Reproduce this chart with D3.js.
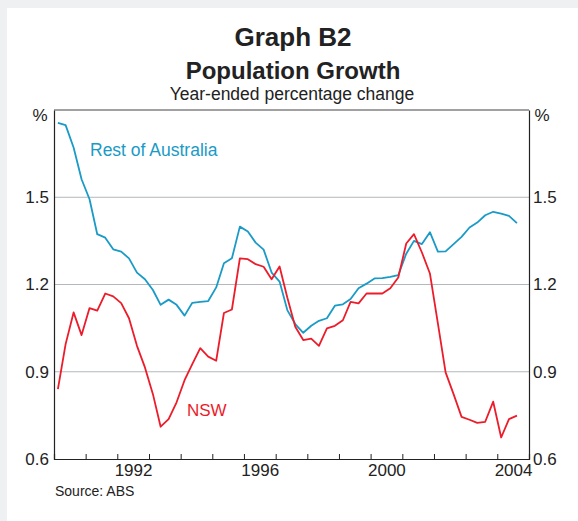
<!DOCTYPE html>
<html>
<head>
<meta charset="utf-8">
<script src="https://cdn.jsdelivr.net/npm/d3@7"></script>
<style>
  body { margin: 0; background: #eef0f2; }
  text { font-family: "Liberation Sans", Arial, sans-serif; fill: #222; }
</style>
</head>
<body>
<div id="my_dataviz"></div>
<script>
// quarterly observations, March 1990 to September 2004
var quarters = [
  "1990Q1","1990Q2","1990Q3","1990Q4","1991Q1","1991Q2","1991Q3","1991Q4",
  "1992Q1","1992Q2","1992Q3","1992Q4","1993Q1","1993Q2","1993Q3","1993Q4",
  "1994Q1","1994Q2","1994Q3","1994Q4","1995Q1","1995Q2","1995Q3","1995Q4",
  "1996Q1","1996Q2","1996Q3","1996Q4","1997Q1","1997Q2","1997Q3","1997Q4",
  "1998Q1","1998Q2","1998Q3","1998Q4","1999Q1","1999Q2","1999Q3","1999Q4",
  "2000Q1","2000Q2","2000Q3","2000Q4","2001Q1","2001Q2","2001Q3","2001Q4",
  "2002Q1","2002Q2","2002Q3","2002Q4","2003Q1","2003Q2","2003Q3","2003Q4",
  "2004Q1","2004Q2","2004Q3"
];

var restOfAustralia = [
  1.756, 1.748, 1.671, 1.562, 1.493, 1.373, 1.361, 1.321,
  1.313, 1.290, 1.241, 1.218, 1.181, 1.130, 1.148, 1.130,
  1.093, 1.137, 1.140, 1.143, 1.190, 1.273, 1.290, 1.399,
  1.382, 1.344, 1.320, 1.241, 1.210, 1.112, 1.064, 1.034,
  1.058, 1.075, 1.084, 1.127, 1.132, 1.150, 1.187, 1.203,
  1.221, 1.222, 1.226, 1.232, 1.306, 1.350, 1.339, 1.380,
  1.313, 1.314, 1.339, 1.364, 1.396, 1.413, 1.438, 1.450,
  1.444, 1.436, 1.411
];

var nsw = [
  0.840, 0.995, 1.104, 1.026, 1.119, 1.110, 1.169, 1.159,
  1.136, 1.084, 0.989, 0.915, 0.823, 0.711, 0.737, 0.795,
  0.871, 0.926, 0.981, 0.952, 0.938, 1.102, 1.114, 1.290,
  1.287, 1.270, 1.261, 1.218, 1.262, 1.155, 1.055, 1.009,
  1.014, 0.989, 1.049, 1.058, 1.077, 1.140, 1.135, 1.169,
  1.169, 1.169, 1.187, 1.224, 1.341, 1.373, 1.310, 1.238,
  1.066, 0.898, 0.823, 0.745, 0.735, 0.724, 0.728, 0.797,
  0.674, 0.737, 0.749
];

var yTicks = [0.6, 0.9, 1.2, 1.5];
var yearLabels = [1992, 1996, 2000, 2004];

document.addEventListener("DOMContentLoaded", function () {
  drawChart();
});

function quarterDate(q) {
  // plot each quarter at its middle month
  var year = +q.slice(0, 4);
  var n = +q.slice(5);
  return new Date(year, (n - 1) * 3 + 1, 15);
}

function drawChart() {
  var W = 578, H = 521;
  var margin = { top: 110, right: 49, bottom: 62, left: 54 },
    width = W - margin.left - margin.right,
    height = H - margin.top - margin.bottom;

  var root = d3
    .select("#my_dataviz")
    .append("svg")
    .attr("width", W)
    .attr("height", H);

  // white panel with grey frame on top and left
  root.append("rect")
    .attr("x", 7).attr("y", 8)
    .attr("width", W - 7).attr("height", H - 8)
    .attr("fill", "#fff");

  // titles
  root.append("text").attr("x", 293).attr("y", 46)
    .attr("text-anchor", "middle")
    .style("font-size", "26px").style("font-weight", "bold")
    .text("Graph B2");
  root.append("text").attr("x", 293).attr("y", 79)
    .attr("text-anchor", "middle")
    .style("font-size", "24px").style("font-weight", "bold")
    .text("Population Growth");
  root.append("text").attr("x", 292).attr("y", 100)
    .attr("text-anchor", "middle")
    .style("font-size", "17.5px")
    .text("Year-ended percentage change");

  var svg = root.append("g")
    .attr("transform", "translate(" + margin.left + "," + margin.top + ")");

  var x = d3.scaleTime()
    .domain([new Date(1990, 0, 1), new Date(2005, 0, 1)])
    .range([0, width]);

  var y = d3.scaleLinear()
    .domain([0.6, 1.8])
    .range([height, 0]);

  // horizontal gridlines
  svg.selectAll("gridLine")
    .data(yTicks.slice(1))
    .enter()
    .append("line")
    .attr("x1", 0).attr("x2", width)
    .attr("y1", function (d) { return y(d); })
    .attr("y2", function (d) { return y(d); })
    .attr("stroke", "#b4b8bc")
    .attr("stroke-width", 1);

  // left and right y axes
  var yLeft = svg.append("g")
    .call(d3.axisLeft(y).tickValues(yTicks).tickSize(0).tickPadding(5).tickFormat(d3.format(".1f")));
  var yRight = svg.append("g")
    .attr("transform", "translate(" + width + ",0)")
    .call(d3.axisRight(y).tickValues(yTicks).tickSize(0).tickPadding(4).tickFormat(d3.format(".1f")));
  [yLeft, yRight].forEach(function (a) {
    a.select(".domain").attr("stroke", "#222").attr("stroke-width", 1.2);
    a.selectAll("text").style("font-size", "17px").style("fill", "#222")
      .attr("font-family", null);
  });

  // top border
  svg.append("line")
    .attr("x1", 0).attr("x2", width).attr("y1", 0).attr("y2", 0)
    .attr("stroke", "#444").attr("stroke-width", 1.2);

  // x axis: ticks at the start of each year, labels in the middle
  var xAxis = svg.append("g")
    .attr("transform", "translate(0," + height + ")")
    .call(d3.axisBottom(x)
      .tickValues(d3.timeYears(new Date(1991, 0, 1), new Date(2005, 0, 1)))
      .tickSize(-5)
      .tickFormat(""));
  xAxis.select(".domain").attr("stroke", "#222").attr("stroke-width", 1.2);
  xAxis.selectAll(".tick line").attr("stroke", "#222");

  var xLabels = svg.append("g")
    .attr("transform", "translate(0," + height + ")")
    .call(d3.axisBottom(x)
      .tickValues(yearLabels.map(function (d) { return new Date(d, 6, 1); }))
      .tickSize(0)
      .tickPadding(5)
      .tickFormat(d3.timeFormat("%Y")));
  xLabels.select(".domain").remove();
  xLabels.selectAll("text").style("font-size", "17px").style("fill", "#222")
    .attr("font-family", null);

  // % units
  root.append("text").attr("x", 40).attr("y", 121)
    .attr("text-anchor", "middle").style("font-size", "17px").text("%");
  root.append("text").attr("x", 542).attr("y", 121)
    .attr("text-anchor", "middle").style("font-size", "17px").text("%");

  // lines
  var line = d3.line()
    .x(function (d) { return x(quarterDate(d[0])); })
    .y(function (d) { return y(d[1]); });

  var series = [
    { name: "Rest of Australia", values: restOfAustralia, color: "#1a9ac6" },
    { name: "NSW", values: nsw, color: "#ec1c2a" }
  ];

  svg.selectAll("seriesLine")
    .data(series)
    .enter()
    .append("path")
    .attr("d", function (s) {
      return line(quarters.map(function (q, i) { return [q, s.values[i]]; }));
    })
    .attr("fill", "none")
    .attr("stroke", function (s) { return s.color; })
    .attr("stroke-width", 1.8)
    .attr("stroke-linejoin", "round");

  // series labels
  root.append("text").attr("x", 90).attr("y", 156)
    .style("font-size", "17.5px").style("fill", "#1a9ac6")
    .text("Rest of Australia");
  root.append("text").attr("x", 187).attr("y", 416)
    .style("font-size", "17px").style("fill", "#ec1c2a")
    .text("NSW");

  // source
  root.append("text").attr("x", 55).attr("y", 496)
    .style("font-size", "14px")
    .text("Source: ABS");
}
</script>
</body>
</html>
